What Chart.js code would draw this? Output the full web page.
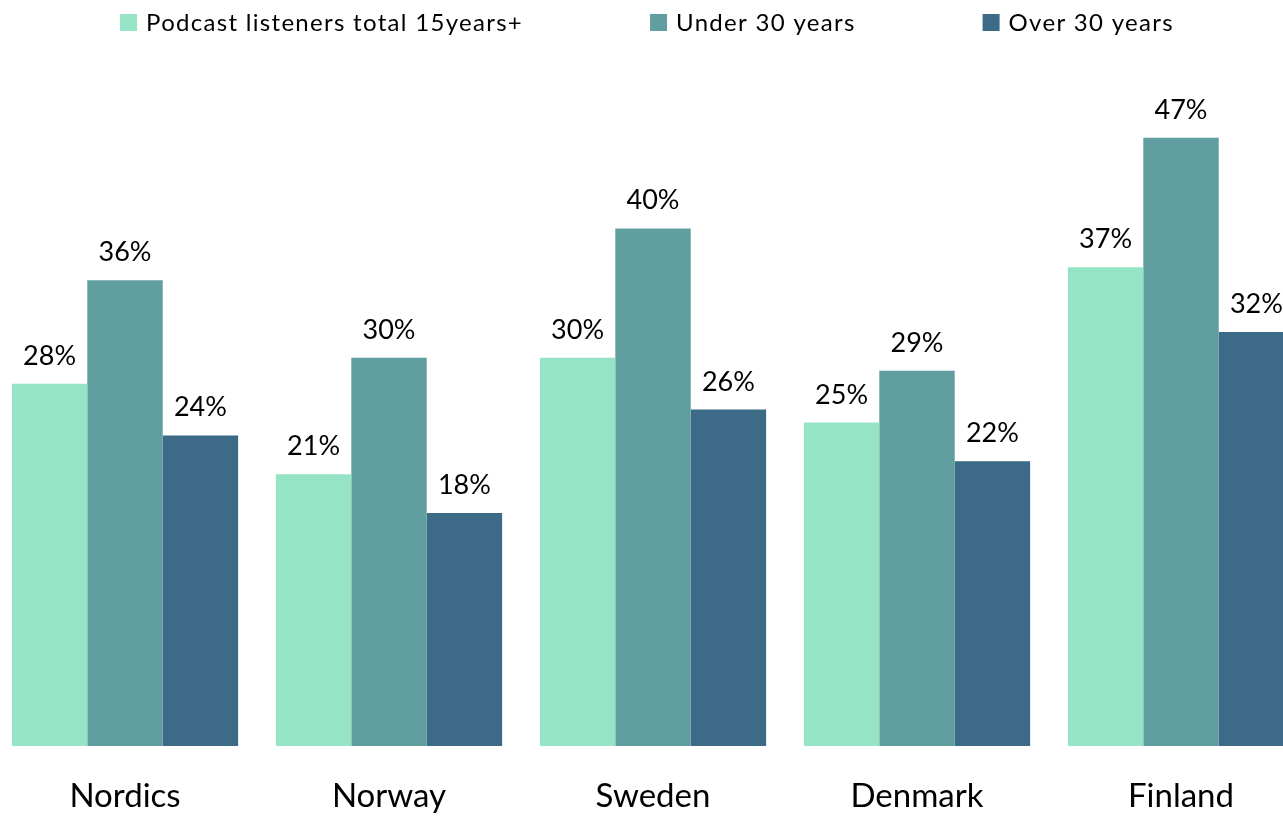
<!DOCTYPE html>
<html>
<head>
<meta charset="utf-8">
<title>Podcast listeners in the Nordics</title>
<script src="https://cdn.jsdelivr.net/npm/chart.js@4/dist/chart.umd.min.js"></script>
<style>
  html, body { margin: 0; padding: 0; background: #ffffff; overflow: hidden; }
  body { width: 1283px; height: 816px; position: relative; }
  #wrap { position: absolute; left: -7px; top: 0; width: 1320px; height: 816px; }
</style>
</head>
<body>
<div id="wrap"><canvas id="chart"></canvas></div>
<script>
const categories = ['Nordics', 'Norway', 'Sweden', 'Denmark', 'Finland'];
const seriesNames = ['Podcast listeners total 15years+', 'Under 30 years', 'Over 30 years'];
const totalListeners = [28, 21, 30, 25, 37];
const under30 = [36, 30, 40, 29, 47];
const over30 = [24, 18, 26, 22, 32];

const FONT = 'Lato, "Open Sans", "DejaVu Sans", sans-serif';
const colors = ['#95e4c6', '#619ea0', '#3c6a87'];

// Value labels above every bar
const valueLabels = {
  id: 'valueLabels',
  afterDatasetsDraw(chart) {
    const ctx = chart.ctx;
    ctx.save();
    ctx.font = '27px ' + FONT;
    ctx.fillStyle = '#000000';
    ctx.textAlign = 'center';
    ctx.textBaseline = 'alphabetic';
    chart.data.datasets.forEach((ds, di) => {
      const meta = chart.getDatasetMeta(di);
      meta.data.forEach((bar, i) => {
        ctx.fillText(ds.data[i] + '%', bar.x, bar.y - 19);
      });
    });
    ctx.restore();
  }
};

// Single-row legend with wide gaps between the entries
const wideLegend = {
  id: 'wideLegend',
  afterDraw(chart) {
    const ctx = chart.ctx;
    const box = 17, textGap = 9, itemGap = 127, centerX = 654;
    ctx.save();
    ctx.font = '24px ' + FONT;
    ctx.letterSpacing = '1.3px';
    ctx.textBaseline = 'alphabetic';
    ctx.textAlign = 'left';
    const items = chart.data.datasets.map(ds => ({
      text: ds.label, color: ds.backgroundColor, w: ctx.measureText(ds.label).width
    }));
    const total = items.reduce((s, it) => s + box + textGap + it.w, 0) + itemGap * (items.length - 1);
    let x = centerX - total / 2;
    items.forEach(it => {
      ctx.fillStyle = it.color;
      ctx.fillRect(x, 14, box, box);
      ctx.fillStyle = '#000000';
      ctx.fillText(it.text, x + box + textGap, 31);
      x += box + textGap + it.w + itemGap;
    });
    ctx.restore();
  }
};

new Chart(document.getElementById('chart'), {
  type: 'bar',
  data: {
    labels: categories,
    datasets: [
      { label: seriesNames[0], data: totalListeners, backgroundColor: colors[0] },
      { label: seriesNames[1], data: under30, backgroundColor: colors[1] },
      { label: seriesNames[2], data: over30, backgroundColor: colors[2] }
    ]
  },
  options: {
    responsive: true,
    maintainAspectRatio: false,
    animation: false,
    layout: { padding: { top: 99, left: 0, right: 0, bottom: 0 } },
    datasets: { bar: { categoryPercentage: 0.857, barPercentage: 1.0, borderWidth: 0 } },
    plugins: {
      legend: { display: false },
      tooltip: { enabled: false }
    },
    scales: {
      x: {
        grid: { display: false },
        border: { display: false },
        ticks: { color: '#000000', font: { family: FONT, size: 33 }, padding: 23, maxRotation: 0 },
        afterFit(scale) { scale.height = 70; }
      },
      y: {
        display: false,
        min: 0,
        max: 50
      }
    }
  },
  plugins: [valueLabels, wideLegend]
});
</script>
</body>
</html>
